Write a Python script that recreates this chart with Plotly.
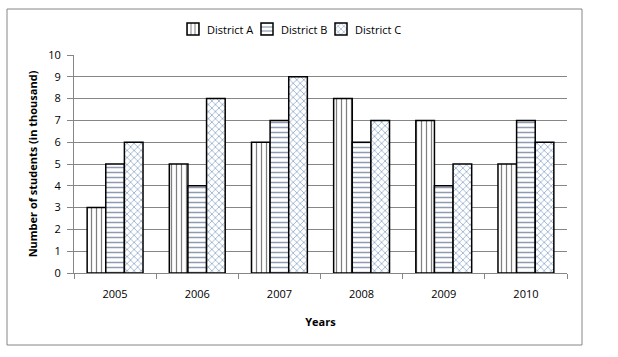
import plotly.graph_objects as go

years = ["2005", "2006", "2007", "2008", "2009", "2010"]
district_a = [3, 5, 6, 8, 7, 5]
district_b = [5, 4, 7, 6, 4, 7]
district_c = [6, 8, 9, 7, 5, 6]
series_names = ["District A", "District B", "District C"]

L, R, T, B = 74, 51, 55, 84
W, H = 618, 357
pw, ph = W - L - R, H - T - B

def px(x):
    return (x - L) / pw

def py(y):
    return (H - B - y) / ph

styles = [
    dict(shape="|", fgcolor="black", size=5, solidity=0.25),
    dict(shape="-", fgcolor="#1F3864", size=5, solidity=0.3),
    dict(shape="x", fgcolor="#2E5C9A", size=5, solidity=0.3),
]
legend_ids = ["legend", "legend2", "legend3"]
sym_x = [196, 270, 344]   # legend symbol anchors (px)
text_x = [205, 279, 353]  # legend text starts (px)
leg_y = 29

fig = go.Figure()
for vals, nm, st, lid in zip([district_a, district_b, district_c], series_names, styles, legend_ids):
    fig.add_bar(x=years, y=vals, name=" ", legend=lid,
                marker=dict(color="white", line=dict(color="black", width=1.5), pattern=st))

font = "Open Sans, Lato, sans-serif"
legend_common = dict(orientation="h", yanchor="middle", xanchor="left", itemwidth=30,
                     font=dict(size=11), bgcolor="rgba(0,0,0,0)")
legends = {}
for lid, sx in zip(legend_ids, sym_x):
    legends[lid] = dict(legend_common, x=px(sx - 23), y=py(leg_y))

annotations = [dict(text=nm, x=px(tx), y=py(leg_y), xref="paper", yref="paper",
                    xanchor="left", yanchor="middle", showarrow=False,
                    font=dict(size=11, color="black"))
               for nm, tx in zip(series_names, text_x)]

fig.update_layout(
    width=W, height=H,
    margin=dict(l=L, r=R, t=T, b=B, autoexpand=False),
    paper_bgcolor="white", plot_bgcolor="white",
    barmode="group", bargap=0.32, bargroupgap=0,
    font=dict(family=font, size=11, color="black"),
    showlegend=True,
    annotations=annotations,
    xaxis=dict(showline=True, linecolor="#868686", linewidth=1, ticks="outside",
               tickcolor="#868686", ticklen=5, tickson="boundaries", showgrid=False,
               tickfont=dict(size=11), ticklabelstandoff=11,
               title=dict(text="<b>Years</b>", font=dict(size=11), standoff=18)),
    yaxis=dict(range=[0, 10], dtick=1, showline=True, linecolor="#868686", linewidth=1,
               ticks="outside", tickcolor="#868686", ticklen=6,
               showgrid=True, gridcolor="#868686", gridwidth=1, zeroline=False,
               tickfont=dict(size=11), ticklabelstandoff=4,
               title=dict(text="<b>Number of students (in thousand)</b>", font=dict(size=11), standoff=8)),
    shapes=[dict(type="rect", xref="paper", yref="paper",
                 x0=px(7), x1=px(582), y0=py(345), y1=py(9),
                 line=dict(color="#868686", width=1), fillcolor="rgba(0,0,0,0)", layer="below")],
    **legends,
)

fig.write_html("out.html", post_script="document.body.style.margin='0';",
               config={"displayModeBar": False})
